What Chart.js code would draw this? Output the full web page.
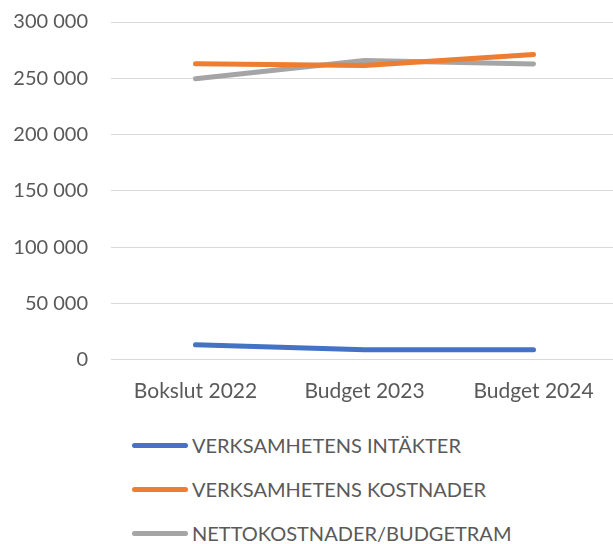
<!DOCTYPE html>
<html><head><meta charset="utf-8">
<script src="https://cdn.jsdelivr.net/npm/chart.js@4/dist/chart.umd.min.js"></script>
<style>
html,body{margin:0;padding:0;background:#fff;overflow:hidden;}
#wrap{position:relative;width:613px;height:544px;overflow:hidden;}
#c{position:absolute;left:0;top:-13px;}
#legend{position:absolute;left:132px;top:423px;font-family:Lato,"Open Sans",sans-serif;font-size:20px;color:#595959;}
.li{height:44px;display:flex;align-items:center;}
.sw{width:56px;height:5px;border-radius:3px;margin-right:4px;}
</style></head>
<body><div id="wrap"><canvas id="c" width="618" height="428"></canvas><div id="legend"></div></div>
<script>
const categories = ["Bokslut 2022", "Budget 2023", "Budget 2024"];
const intakter = [13300, 8900, 8900];
const kostnader = [262900, 261400, 271200];
const netto = [249600, 265900, 262700];
const seriesNames = ["VERKSAMHETENS INTÄKTER", "VERKSAMHETENS KOSTNADER", "NETTOKOSTNADER/BUDGETRAM"];
const colors = ["#4472C4", "#ED7D31", "#A5A5A5"];
const yMin = 0, yMax = 300000, yStep = 50000;

const fmt = v => String(v).replace(/\B(?=(\d{3})+(?!\d))/g, " ");
const fontY = {family: "Lato, 'Open Sans', sans-serif", size: 20};
const fontX = {family: "Lato, 'Open Sans', sans-serif", size: 21};
const datasets = [intakter, kostnader, netto].map((d, i) => ({
  label: seriesNames[i], data: d, borderColor: colors[i], backgroundColor: colors[i],
  borderWidth: 5, pointRadius: 0, borderCapStyle: 'round', borderJoinStyle: 'round', tension: 0
}));
new Chart(document.getElementById('c'), {
  type: 'line',
  data: {labels: categories, datasets},
  options: {
    responsive: false, animation: false,
    layout: {padding: {top: 1, right: 0, left: 1, bottom: 0}},
    plugins: {legend: {display: false}, tooltip: {enabled: false}},
    scales: {
      x: {offset: true, grid: {display: false}, border: {display: true, color: '#d9d9d9'},
          ticks: {color: '#595959', font: fontX, padding: 11}},
      y: {min: yMin, max: yMax, grid: {color: '#d9d9d9', drawTicks: false}, border: {display: false},
          afterFit: s => { s.width = 110; },
          ticks: {stepSize: yStep, color: '#595959', font: fontY, padding: 23, callback: v => fmt(v)}}
    }
  }
});
const lg = document.getElementById('legend');
seriesNames.forEach((n, i) => {
  const row = document.createElement('div'); row.className = 'li';
  const sw = document.createElement('div'); sw.className = 'sw'; sw.style.background = colors[i];
  const t = document.createElement('span'); t.textContent = n;
  row.appendChild(sw); row.appendChild(t); lg.appendChild(row);
});
</script></body></html>
